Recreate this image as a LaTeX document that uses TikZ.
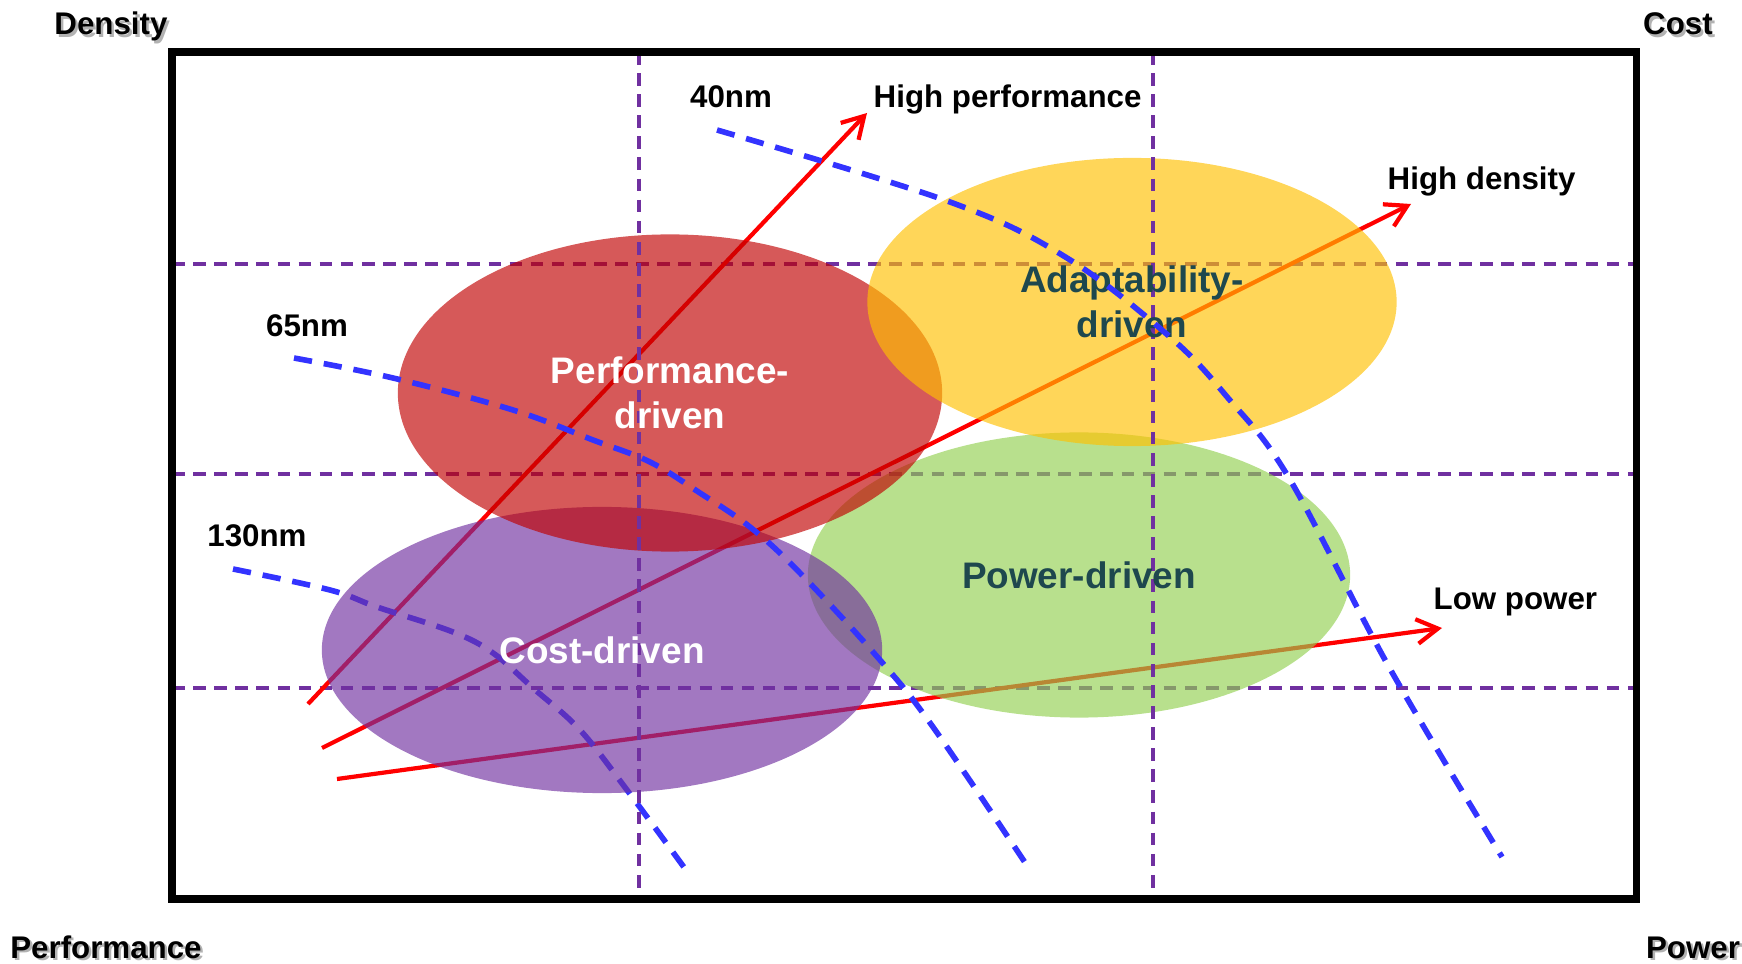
\documentclass[tikz,border=0pt]{standalone}
\usepackage{fontspec}
\setmainfont{Liberation Sans}
\usetikzlibrary{arrows.meta,shapes.geometric}

\definecolor{gridpurple}{RGB}{112,48,160}
\definecolor{nodeblue}{RGB}{51,51,255}
\definecolor{perfred}{RGB}{192,0,0}
\definecolor{costpurple}{RGB}{112,48,160}
\definecolor{adaptyellow}{RGB}{255,192,0}
\definecolor{powergreen}{RGB}{146,208,80}
\definecolor{darkteal}{RGB}{30,72,78}

\newcommand{\shadowed}[1]{\makebox[0pt][l]{\kern0.7pt\raisebox{-0.7pt}{\textcolor{black!30}{#1}}}#1}

\begin{document}
\begin{tikzpicture}[
    x=0.01cm, y=-0.01cm,
    font=\fontsize{8.9}{10.5}\selectfont\bfseries,
    frame/.style={line width=2pt},
    gridline/.style={gridpurple, line width=1pt, dash pattern=on 3.6pt off 2.4pt},
    nodeline/.style={nodeblue, line width=1.6pt, dash pattern=on 5.2pt off 3.4pt},
    trend/.style={-{Straight Barb[length=6pt,width=7pt]}, red, line width=1.2pt},
    blob/.style={ellipse, draw=none, inner sep=0pt, fill opacity=0.65},
    blobtext/.style={align=center, inner sep=0pt,
                     font=\fontsize{10.5}{12.8}\selectfont\bfseries},
    lbl/.style={inner sep=0pt, anchor=base},
  ]
  \useasboundingbox (0,0) rectangle (1742,964);

  % --- frame and grid geometry ---
  \def\frameL{172}  \def\frameR{1636}
  \def\frameT{52}   \def\frameB{899}
  \def\colA{639}    \def\colB{1153}
  \def\rowA{264}    \def\rowB{474}   \def\rowC{688}

  % --- horizontal grid (behind the regions) ---
  \foreach \r in {\rowA,\rowB,\rowC}
    \draw[gridline] (\frameL,\r) -- (\frameR,\r);

  % --- trend arrows (behind the regions) ---
  \coordinate (hp-tail) at (308,704);  \coordinate (hp-head) at (867,113);
  \coordinate (hd-tail) at (322,748);  \coordinate (hd-head) at (1411,204);
  \coordinate (lp-tail) at (337,779);  \coordinate (lp-head) at (1442,628);
  \draw[trend] (hp-tail) -- (hp-head);
  \draw[trend] (hd-tail) -- (hd-head);
  \draw[trend] (lp-tail) -- (lp-head);

  % --- 130nm node line ---
  \draw[nodeline] plot[smooth, tension=0.6] coordinates
    {(233,569) (330,590) (377,607) (453,632) (493,653) (533,688)
     (580,730) (627,790) (686,870)};

  % --- design regions ---
  \node[blob, fill=powergreen, minimum width=5.42cm, minimum height=2.85cm]
    (power) at (1079,575) {};
  \node[blob, fill=costpurple, minimum width=5.60cm, minimum height=2.86cm]
    (cost) at (602,650) {};
  \node[blob, fill=perfred, minimum width=5.44cm, minimum height=3.17cm]
    (perf) at (670,393) {};
  \node[blob, fill=adaptyellow, minimum width=5.29cm, minimum height=2.88cm]
    (adapt) at (1132,302) {};

  % --- vertical grid (over the regions) ---
  \foreach \c in {\colA,\colB}
    \draw[gridline] (\c,\frameT) -- (\c,\frameB);

  % --- region labels ---
  \node[blobtext, text=white]    at (perf.center)  {Performance-\\driven};
  \node[blobtext, text=darkteal] at (adapt.center) {Adaptability-\\driven};
  \node[blobtext, text=darkteal] at (power.center) {Power-driven};
  \node[blobtext, text=white]    at (cost.center)  {Cost-driven};

  % --- 65nm and 40nm node lines ---
  \draw[nodeline] plot[smooth, tension=0.6] coordinates
    {(294,358) (393,378) (513,410) (593,440) (650,462) (700,493)
     (750,527) (800,573) (880,660) (933,727) (1028,867)};
  \draw[nodeline] plot[smooth, tension=0.6] coordinates
    {(717,130) (950,202) (1067,258) (1170,337) (1228,398) (1289,478)
     (1389,667) (1502,857)};

  % --- node and trend labels ---
  \node[lbl] (n40)  at (731,108) {40nm};
  \node[lbl] (n65)  at (307,337) {65nm};
  \node[lbl] (n130) at (257,547) {130nm};
  \node[lbl, anchor=base west] (hperf) at (873,108)  {High performance};
  \node[lbl, anchor=base west] (hdens) at (1387,190) {High density};
  \node[lbl, anchor=base west] (lpow)  at (1433,610) {Low power};

  % --- frame ---
  \draw[frame] (\frameL,\frameT) rectangle (\frameR,\frameB);

  % --- corner axes ---
  \node[lbl] (density) at (111,35)   {\shadowed{Density}};
  \node[lbl] (cost-ax) at (1678,35)  {\shadowed{Cost}};
  \node[lbl] (perf-ax) at (106,958)  {\shadowed{Performance}};
  \node[lbl] (power-ax) at (1693,958) {\shadowed{Power}};
\end{tikzpicture}
\end{document}
